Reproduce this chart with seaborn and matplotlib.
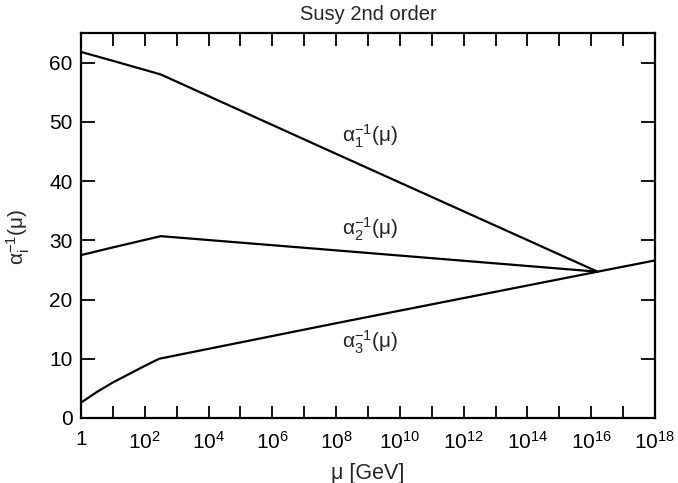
import numpy as np
import pandas as pd
import matplotlib
matplotlib.use("Agg")
import matplotlib.pyplot as plt
from matplotlib.ticker import FixedLocator, FixedFormatter, NullFormatter
import seaborn as sns

# data (log10 of mu in GeV, inverse couplings)
a1_logmu = [0, 1.0, 2.5, 8.0, 16.2]
a1_vals = [61.8, 60.3, 58.0, 44.6, 24.7]
a2_logmu = [0, 1.0, 2.5, 8.0, 16.2]
a2_vals = [27.5, 28.8, 30.7, 28.3, 24.7]
a3_logmu = [0, 0.5, 1.0, 1.5, 2.0, 2.45, 8.0, 16.2, 18.0]
a3_vals = [2.6, 4.4, 6.0, 7.4, 8.8, 10.0, 16.0, 24.7, 26.6]

title = "Susy 2nd order"
xlabel = "\u03bc [GeV]"
ylabel = r"$\mathregular{\alpha_i^{-1}(\mu)}$"
x_major_exp = [0, 2, 4, 6, 8, 10, 12, 14, 16, 18]
x_minor_exp = [1, 3, 5, 7, 9, 11, 13, 15, 17]
y_ticks = [0, 10, 20, 30, 40, 50, 60]
line_labels = [r"$\mathregular{\alpha^{-1}_{1}(\mu)}$",
               r"$\mathregular{\alpha^{-1}_{2}(\mu)}$",
               r"$\mathregular{\alpha^{-1}_{3}(\mu)}$"]
label_pos = [(10 ** 8.2, 47.6), (10 ** 8.2, 31.9), (10 ** 8.2, 12.7)]

sns.set_style("ticks")
plt.rcParams["font.family"] = ["Liberation Sans", "DejaVu Sans"]
plt.rcParams["mathtext.fontset"] = "custom"
plt.rcParams["mathtext.rm"] = "Liberation Sans"
plt.rcParams["mathtext.it"] = "Liberation Sans:italic"
plt.rcParams["mathtext.bf"] = "Liberation Sans:bold"

rows = []
for name, xs, ys in [("a1", a1_logmu, a1_vals), ("a2", a2_logmu, a2_vals), ("a3", a3_logmu, a3_vals)]:
    for x, y in zip(xs, ys):
        rows.append({"mu": 10.0 ** x, "val": y, "series": name})
df = pd.DataFrame(rows)

fig = plt.figure(figsize=(6.78, 4.83), dpi=100)
ax = fig.add_axes([0.1195, 0.1346, 0.8465, 0.7971])
sns.lineplot(data=df, x="mu", y="val", hue="series", palette=["black"] * 3,
             legend=False, ax=ax, linewidth=1.6, sort=False, estimator=None)
ax.set_xscale("log")
ax.set_xlim(1, 1e18)
ax.set_ylim(0, 65)

ax.xaxis.set_major_locator(FixedLocator([10.0 ** e for e in x_major_exp]))
ax.xaxis.set_major_formatter(FixedFormatter(["1"] + [r"$\mathregular{10^{%d}}$" % e for e in x_major_exp[1:]]))
ax.xaxis.set_minor_locator(FixedLocator([10.0 ** e for e in x_minor_exp]))
ax.xaxis.set_minor_formatter(NullFormatter())
ax.set_yticks(y_ticks)

ax.tick_params(axis="both", which="both", direction="in", top=True, right=True,
               width=1.3, labelsize=15, colors="black")
ax.tick_params(axis="x", which="both", length=9, pad=9)
ax.tick_params(axis="y", which="major", length=10, pad=6)
for s in ax.spines.values():
    s.set_linewidth(1.6)
    s.set_color("black")

ax.set_title(title, fontsize=14.5, pad=9)
ax.set_xlabel(xlabel, fontsize=15.5, labelpad=8)
ax.set_ylabel(ylabel, fontsize=15, labelpad=8)
ax.yaxis.set_label_coords(-0.085, 0.47)

for lab, (x, y) in zip(line_labels, label_pos):
    ax.text(x, y, lab, fontsize=15, ha="left", va="center")

fig.savefig("out.png", dpi=100)
